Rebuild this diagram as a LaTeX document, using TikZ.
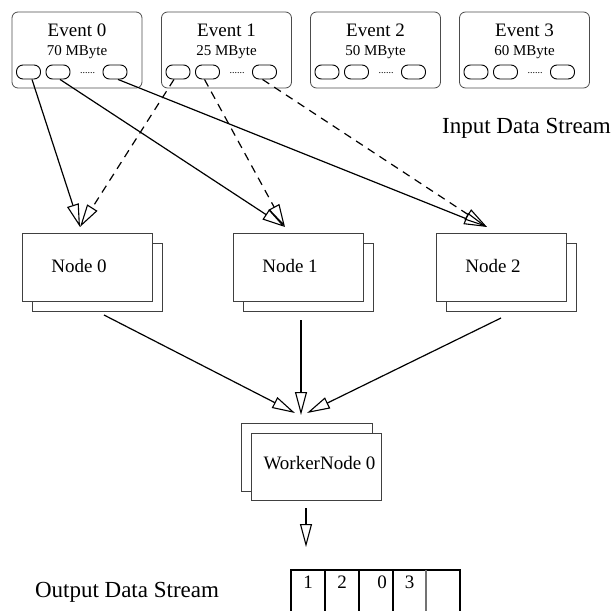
\documentclass[tikz,border=0pt]{standalone}
\usepackage{fontspec}
\setmainfont{Liberation Serif}
\usetikzlibrary{arrows.meta,calc}
\begin{document}
\begin{tikzpicture}[x=1pt,y=-1pt,
  evbox/.style={draw=black!70, line width=0.8pt, rounded corners=6pt,
    minimum width=130pt, minimum height=76pt, inner sep=0pt},
  slot/.style={draw=black, line width=0.9pt, rounded corners=6.5pt,
    minimum width=24pt, minimum height=14pt, inner sep=0pt},
  dots/.style={font=\fontsize{10}{10}\selectfont, inner sep=0pt, anchor=base},
  evtitle/.style={font=\fontsize{19}{22}\selectfont, inner sep=0pt, anchor=base},
  evsize/.style={font=\fontsize{15}{18}\selectfont, inner sep=0pt, anchor=base},
  pcbox/.style={draw=black!75, line width=0.8pt, fill=white,
    minimum width=130pt, minimum height=68pt, inner sep=0pt},
  pclabel/.style={font=\fontsize{19}{22}\selectfont, inner sep=0pt},
  bigtext/.style={font=\fontsize{23}{27}\selectfont, inner sep=0pt, anchor=base},
  flow/.style={line width=1.2pt, -{Triangle[open, length=23pt, width=12pt, line width=1.1pt]}},
  flowdash/.style={flow, dash pattern=on 8pt off 6pt},
]
\useasboundingbox (0,0) rectangle (611,611);

% ---- events with their fragments ----
\foreach \i/\cx/\sz in {0/77/70, 1/226.5/25, 2/375.5/50, 3/524.5/60} {
  \node[evbox] (ev\i) at (\cx,50) {};
  \node[evtitle] (evt\i) at (\cx,36) {Event \i};
  \node[evsize] (evs\i) at (\cx,55) {\sz\ MByte};
  \node[slot] (e\i a) at (\cx-48.5,72) {};
  \node[slot] (e\i b) at (\cx-19,72) {};
  \node[dots] (e\i d) at (\cx+10.5,73) {......};
  \node[slot] (e\i c) at (\cx+38,72) {};
}

\node[bigtext] (instream) at (526.5,133) {Input Data Stream};

% ---- builder nodes (stacked boxes) ----
\foreach \i/\cx in {0/87, 1/298, 2/501} {
  \node[pcbox] (nb\i) at (\cx+10,277) {};
  \node[pcbox] (n\i) at (\cx,267) {};
  \node[pclabel] (nl\i) at (\cx-8,266) {Node \i};
}

% ---- worker node ----
\node[pcbox, minimum width=131pt] (wb) at (306.5,457) {};
\node[pcbox, minimum height=67pt] (wf) at (316,466.5) {};
\node[pclabel] (wl) at (319.5,463) {WorkerNode 0};

% arrow end points
\coordinate (t0) at (80,227);
\coordinate (t1) at (285,227);
\coordinate (t2) at (487,227);
\coordinate (s0) at (104,315);
\coordinate (s1) at (301,320);
\coordinate (s2) at (501,318);
\coordinate (w0) at (295,413);
\coordinate (w1) at (301,415);
\coordinate (w2) at (307,413);
\coordinate (o0) at (306,508);
\coordinate (o1) at (306,547);

% ---- fragments to builder nodes ----
\draw[flow] ($(e0a.south)+(3.5,0)$) -- (t0);
\draw[flow] ($(e0b.south)+(2,0)$) -- (t1);
\draw[flow] ($(e0c.south)+(3,0)$) -- (t2);
\draw[flowdash] ($(e1a.south)+(-4,0)$) -- (t0);
\draw[flowdash] ($(e1b.south)+(-3,0)$) -- (t1);
\draw[flowdash] ($(e1c.south)+(-2,0)$) -- (t2);

% ---- builder nodes to worker ----
\draw[flow] (s0) -- (w0);
\draw[flow] (s1) -- (w1);
\draw[flow] (s2) -- (w2);

% ---- worker to output ----
\draw[flow] (o0) -- (o1);

% ---- output buffer ----
\draw[line width=1.2pt] (291,615) |- (460,570) -- (460,615);
\draw[line width=1.1pt] (325,570) -- (325,615) (359,570) -- (359,615) (393,570) -- (393,615);
\draw[line width=1.1pt, black!55] (426,570) -- (426,615);
\node[evtitle] (b1) at (308,588) {1};
\node[evtitle] (b2) at (342,588) {2};
\node[evtitle] (b3) at (382,588) {0};
\node[evtitle] (b4) at (409.5,588) {3};

\node[bigtext] (outstream) at (127,597) {Output Data Stream};
\end{tikzpicture}
\end{document}
